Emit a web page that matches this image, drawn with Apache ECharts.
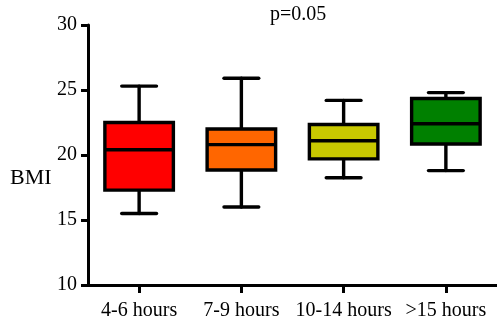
<!DOCTYPE html>
<html>
<head>
<meta charset="utf-8">
<script src="https://cdn.jsdelivr.net/npm/echarts@6/dist/echarts.min.js"></script>
<style>html,body{margin:0;padding:0;background:#fff}#c{width:497px;height:325px}</style>
</head>
<body>
<div id="c"></div>
<script>
const categories = ['4-6 hours', '7-9 hours', '10-14 hours', '>15 hours'];
const lowValues = [15.5, 16.0, 18.25, 18.8];
const q1Values = [17.3, 18.85, 19.7, 20.85];
const medianValues = [20.4, 20.8, 21.1, 22.4];
const q3Values = [22.5, 22.0, 22.35, 24.35];
const highValues = [25.3, 25.9, 24.2, 24.8];
const boxColors = ['#FF0000', '#FF6600', '#C8C800', '#008000'];
const yTicks = [10, 15, 20, 25, 30];

const rows = categories.map((c, i) => [i, lowValues[i], q1Values[i], medianValues[i], q3Values[i], highValues[i]]);

const chart = echarts.init(document.getElementById('c'), null, {renderer: 'canvas'});
const font = '"Liberation Serif", "Times New Roman", serif';
chart.setOption({
  animation: false,
  grid: {left: 88, top: 25, width: 410, height: 260, containLabel: false},
  xAxis: {
    type: 'category', data: categories,
    axisLine: {lineStyle: {color: '#000', width: 3}},
    axisTick: {show: true, alignWithLabel: true, interval: 0, length: 8, lineStyle: {color: '#000', width: 3}},
    axisLabel: {color: '#000', fontFamily: font, fontSize: 20, margin: 16, interval: 0}
  },
  yAxis: {
    type: 'value', min: yTicks[0], max: yTicks[yTicks.length - 1], interval: 5,
    splitLine: {show: false},
    axisLine: {show: true, lineStyle: {color: '#000', width: 3}},
    axisTick: {show: true, length: 7, lineStyle: {color: '#000', width: 3}},
    axisLabel: {color: '#000', fontFamily: font, fontSize: 20, margin: 11}
  },
  graphic: [
    {type: 'text', left: 10, top: 167, style: {text: 'BMI', fill: '#000', font: '22px ' + font}},
    {type: 'text', left: 270, top: 5, style: {text: 'p=0.05', fill: '#000', font: '20px ' + font}}
  ],
  series: [{
    type: 'custom',
    data: rows,
    encode: {x: 0, y: [1, 2, 3, 4, 5]},
    renderItem: function (params, api) {
      const x = api.value(0);
      const bw = api.size([1, 0])[0];
      const hw = bw * 0.335;
      const cw = bw * 0.17;
      const pLow = api.coord([x, api.value(1)]);
      const pQ1 = api.coord([x, api.value(2)]);
      const pMed = api.coord([x, api.value(3)]);
      const pQ3 = api.coord([x, api.value(4)]);
      const pHigh = api.coord([x, api.value(5)]);
      const cx = pLow[0];
      const ls = {stroke: '#000', lineWidth: 3.4, lineCap: 'round'};
      return {
        type: 'group',
        children: [
          {type: 'line', shape: {x1: cx, y1: pHigh[1], x2: cx, y2: pQ3[1]}, style: ls},
          {type: 'line', shape: {x1: cx, y1: pQ1[1], x2: cx, y2: pLow[1]}, style: ls},
          {type: 'line', shape: {x1: cx - cw, y1: pHigh[1], x2: cx + cw, y2: pHigh[1]}, style: ls},
          {type: 'line', shape: {x1: cx - cw, y1: pLow[1], x2: cx + cw, y2: pLow[1]}, style: ls},
          {type: 'rect', shape: {x: cx - hw, y: pQ3[1], width: 2 * hw, height: pQ1[1] - pQ3[1]},
            style: {fill: boxColors[params.dataIndex], stroke: '#000', lineWidth: 3.4}},
          {type: 'line', shape: {x1: cx - hw, y1: pMed[1], x2: cx + hw, y2: pMed[1]}, style: {stroke: '#000', lineWidth: 3.4}}
        ]
      };
    }
  }]
});
</script>
</body>
</html>
